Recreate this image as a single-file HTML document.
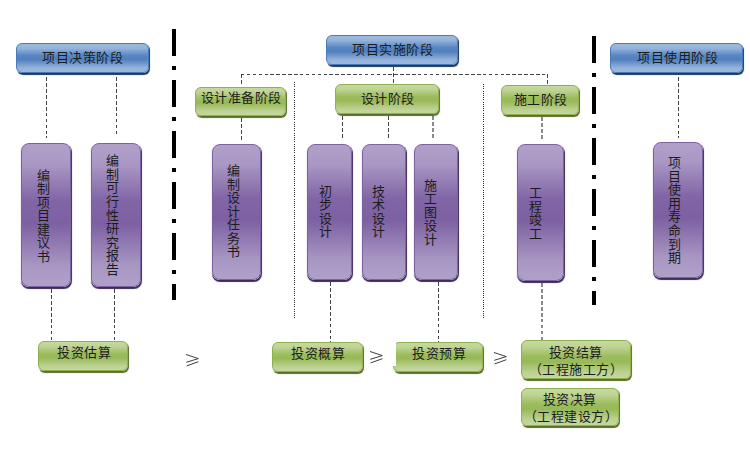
<!DOCTYPE html>
<html lang="zh-CN"><head><meta charset="utf-8"><title>投资控制</title>
<style>
*{margin:0;padding:0;box-sizing:border-box}
html,body{width:750px;height:472px;background:#fff;overflow:hidden}
body{position:relative;font-family:"Liberation Sans", sans-serif;font-size:13px;color:#1c1c1c}
.bl,.gr,.pu,.ln,.t,.ge{position:absolute}
.t{white-space:nowrap;line-height:14px;letter-spacing:0.5px}
.vt{width:13px;letter-spacing:0;line-height:13.55px}
.vt i{display:block;font-style:normal;height:13.55px}
.bl{border:1px solid #4a7ab8;background:linear-gradient(to bottom,#9fbadf 0%,#94b2da 16%,#5685c2 42%,#5181bf 56%,#92b0d9 84%,#9eb9de 100%);box-shadow:1px 1.6px 0.8px #1e3a62}
.gr{border:1px solid #90b050;background:linear-gradient(to bottom,#c6d9a0 0%,#bed394 16%,#9cbc5c 42%,#98b957 56%,#bbd190 84%,#c5d89e 100%);box-shadow:1px 1.6px 0.8px #5a7028}
.pu{border:1px solid #7d62a3;background:linear-gradient(to bottom,#b0a0c9 0%,#a998c4 14%,#8165a6 40%,#7d60a2 56%,#a897c3 86%,#b0a0c9 100%);box-shadow:0.6px 1.3px 0.8px #3e2a5c}
.ge{overflow:visible}
</style></head>
<body>
<div class="ln" style="left:172px;top:29px;height:271px;width:4px;background:repeating-linear-gradient(to bottom,#000 0 27px,transparent 27px 37px,#000 37px 41px,transparent 41px 51px)"></div>
<div class="ln" style="left:592px;top:36px;height:269px;width:4px;background:repeating-linear-gradient(to bottom,#000 0 27px,transparent 27px 37px,#000 37px 41px,transparent 41px 51px)"></div>
<div class="ln" style="left:294px;top:82px;height:238px;width:1px;background:repeating-linear-gradient(to bottom,#333 0 1px,transparent 1px 2.2px)"></div>
<div class="ln" style="left:483px;top:84px;height:235px;width:1px;background:repeating-linear-gradient(to bottom,#333 0 1px,transparent 1px 2.2px)"></div>
<div class="ln" style="left:46px;top:77.3px;height:60.7px;width:1px;background:repeating-linear-gradient(to bottom,#444 0 3.8px,transparent 3.8px 5.95px)"></div>
<div class="ln" style="left:116px;top:77px;height:59px;width:1px;background:repeating-linear-gradient(to bottom,#444 0 3.8px,transparent 3.8px 5.95px)"></div>
<div class="ln" style="left:51px;top:289px;height:52px;width:1px;background:repeating-linear-gradient(to bottom,#444 0 3.8px,transparent 3.8px 5.95px)"></div>
<div class="ln" style="left:114px;top:289px;height:52px;width:1px;background:repeating-linear-gradient(to bottom,#444 0 3.8px,transparent 3.8px 5.95px)"></div>
<div class="ln" style="left:393px;top:67px;height:16px;width:1px;background:repeating-linear-gradient(to bottom,#444 0 3.8px,transparent 3.8px 5.95px)"></div>
<div class="ln" style="left:241px;top:74px;width:307px;height:1px;background:repeating-linear-gradient(to right,#444 0 3.5px,transparent 3.5px 5.9px)"></div>
<div class="ln" style="left:241px;top:74px;height:12px;width:1px;background:repeating-linear-gradient(to bottom,#444 0 3.8px,transparent 3.8px 5.95px)"></div>
<div class="ln" style="left:547px;top:74px;height:11px;width:1px;background:repeating-linear-gradient(to bottom,#444 0 3.8px,transparent 3.8px 5.95px)"></div>
<div class="ln" style="left:241px;top:118px;height:24px;width:1px;background:repeating-linear-gradient(to bottom,#444 0 3.8px,transparent 3.8px 5.95px)"></div>
<div class="ln" style="left:342px;top:116px;height:22px;width:1px;background:repeating-linear-gradient(to bottom,#444 0 3.8px,transparent 3.8px 5.95px)"></div>
<div class="ln" style="left:388px;top:116px;height:22px;width:1px;background:repeating-linear-gradient(to bottom,#444 0 3.8px,transparent 3.8px 5.95px)"></div>
<div class="ln" style="left:432px;top:116px;height:22px;width:2px;background:repeating-linear-gradient(to bottom,#8a8a8a 0 3.8px,transparent 3.8px 5.95px)"></div>
<div class="ln" style="left:541px;top:117px;height:22px;width:2px;background:repeating-linear-gradient(to bottom,#8a8a8a 0 3.8px,transparent 3.8px 5.95px)"></div>
<div class="ln" style="left:330px;top:282px;height:60px;width:1px;background:repeating-linear-gradient(to bottom,#444 0 3.8px,transparent 3.8px 5.95px)"></div>
<div class="ln" style="left:438px;top:282px;height:60px;width:1px;background:repeating-linear-gradient(to bottom,#444 0 3.8px,transparent 3.8px 5.95px)"></div>
<div class="ln" style="left:541px;top:283px;height:57px;width:2px;background:repeating-linear-gradient(to bottom,#8a8a8a 0 3.8px,transparent 3.8px 5.95px)"></div>
<div class="ln" style="left:678px;top:77.3px;height:60.7px;width:1px;background:repeating-linear-gradient(to bottom,#444 0 3.8px,transparent 3.8px 5.95px)"></div>
<div class="bl" style="left:16px;top:43px;width:133px;height:29.8px;border-radius:6px;"></div>
<div class="bl" style="left:326px;top:35px;width:132px;height:30.3px;border-radius:6px;"></div>
<div class="bl" style="left:610px;top:43px;width:133px;height:29.9px;border-radius:6px;"></div>
<div class="gr" style="left:195px;top:86.5px;width:91px;height:29.5px;border-radius:6px;"></div>
<div class="gr" style="left:335px;top:83.5px;width:104px;height:30px;border-radius:6px;"></div>
<div class="gr" style="left:501px;top:84.5px;width:77.6px;height:30.2px;border-radius:6px;"></div>
<div class="pu" style="left:21px;top:143px;width:50.4px;height:143.9px;border-radius:8px;"></div>
<div class="pu" style="left:90.5px;top:143px;width:50px;height:143.9px;border-radius:8px;"></div>
<div class="pu" style="left:211.5px;top:143.5px;width:49.3px;height:136.6px;border-radius:8px;"></div>
<div class="pu" style="left:307px;top:143.5px;width:45.4px;height:136.3px;border-radius:8px;"></div>
<div class="pu" style="left:362px;top:143.5px;width:44.4px;height:136.3px;border-radius:8px;"></div>
<div class="pu" style="left:414.2px;top:143.5px;width:44px;height:136.3px;border-radius:8px;"></div>
<div class="pu" style="left:517px;top:144.3px;width:46.9px;height:136.8px;border-radius:8px;"></div>
<div class="pu" style="left:653px;top:142px;width:50px;height:136.2px;border-radius:8px;"></div>
<div class="gr" style="left:38px;top:341px;width:90.2px;height:30px;border-radius:6px;"></div>
<div class="gr" style="left:272px;top:342.4px;width:90.7px;height:29.7px;border-radius:6px;"></div>
<div class="gr" style="left:393px;top:342.2px;width:89.6px;height:29.9px;border-radius:6px;"></div>
<div style="position:absolute;left:390px;top:340px;width:6px;height:26px;background:#fff"></div>
<div class="gr" style="left:520.5px;top:340px;width:110.7px;height:39.3px;border-radius:6px;"></div>
<div class="gr" style="left:520.5px;top:387.5px;width:98.5px;height:38.4px;border-radius:6px;"></div>
<span class="t" style="left:42.20px;top:50.70px;">项目决策阶段</span>
<span class="t" style="left:352.35px;top:43.00px;">项目实施阶段</span>
<span class="t" style="left:637.00px;top:51.25px;">项目使用阶段</span>
<span class="t" style="left:200.80px;top:91.05px;">设计准备阶段</span>
<span class="t" style="left:360.85px;top:92.35px;">设计阶段</span>
<span class="t" style="left:513.70px;top:92.90px;">施工阶段</span>
<span class="t vt" style="left:36.65px;top:168.60px"><i>编</i><i>制</i><i>项</i><i>目</i><i>建</i><i>议</i><i>书</i></span>
<span class="t vt" style="left:105.65px;top:154.40px"><i>编</i><i>制</i><i>可</i><i>行</i><i>性</i><i>研</i><i>究</i><i>报</i><i>告</i></span>
<span class="t vt" style="left:226.70px;top:164.20px"><i>编</i><i>制</i><i>设</i><i>计</i><i>任</i><i>务</i><i>书</i></span>
<span class="t vt" style="left:318.55px;top:184.55px"><i>初</i><i>步</i><i>设</i><i>计</i></span>
<span class="t vt" style="left:371.65px;top:184.55px"><i>技</i><i>术</i><i>设</i><i>计</i></span>
<span class="t vt" style="left:424.35px;top:178.60px"><i>施</i><i>工</i><i>图</i><i>设</i><i>计</i></span>
<span class="t vt" style="left:529.45px;top:186.25px"><i>工</i><i>程</i><i>竣</i><i>工</i></span>
<span class="t vt" style="left:667.65px;top:156.25px"><i>项</i><i>目</i><i>使</i><i>用</i><i>寿</i><i>命</i><i>到</i><i>期</i></span>
<span class="t" style="left:57.30px;top:345.85px;">投资估算</span>
<span class="t" style="left:291.35px;top:347.40px;">投资概算</span>
<span class="t" style="left:412.15px;top:346.90px;">投资预算</span>
<span class="t" style="left:548.75px;top:345.90px;">投资结算</span>
<span class="t" style="left:528.55px;top:363.10px;">（工程施工方）</span>
<span class="t" style="left:542.95px;top:392.70px;">投资决算</span>
<span class="t" style="left:523.75px;top:410.30px;">（工程建设方）</span>
<svg class="ge" style="left:185.5px;top:353.5px" width="14" height="14" viewBox="0 0 14 14"><polyline points="0.4,0.6 12.3,4.6 0.6,8.2" fill="none" stroke="#333" stroke-width="0.95" stroke-linejoin="round" stroke-linecap="round"/><line x1="1" y1="11.8" x2="12" y2="7.8" stroke="#333" stroke-width="0.95" stroke-linecap="round"/></svg>
<svg class="ge" style="left:369.7px;top:350.8px" width="14" height="14" viewBox="0 0 14 14"><polyline points="0.4,0.6 12.3,4.6 0.6,8.2" fill="none" stroke="#333" stroke-width="0.95" stroke-linejoin="round" stroke-linecap="round"/><line x1="1" y1="11.8" x2="12" y2="7.8" stroke="#333" stroke-width="0.95" stroke-linecap="round"/></svg>
<svg class="ge" style="left:493.9px;top:352.2px" width="14" height="14" viewBox="0 0 14 14"><polyline points="0.4,0.6 12.3,4.6 0.6,8.2" fill="none" stroke="#333" stroke-width="0.95" stroke-linejoin="round" stroke-linecap="round"/><line x1="1" y1="11.8" x2="12" y2="7.8" stroke="#333" stroke-width="0.95" stroke-linecap="round"/></svg>
</body></html>
